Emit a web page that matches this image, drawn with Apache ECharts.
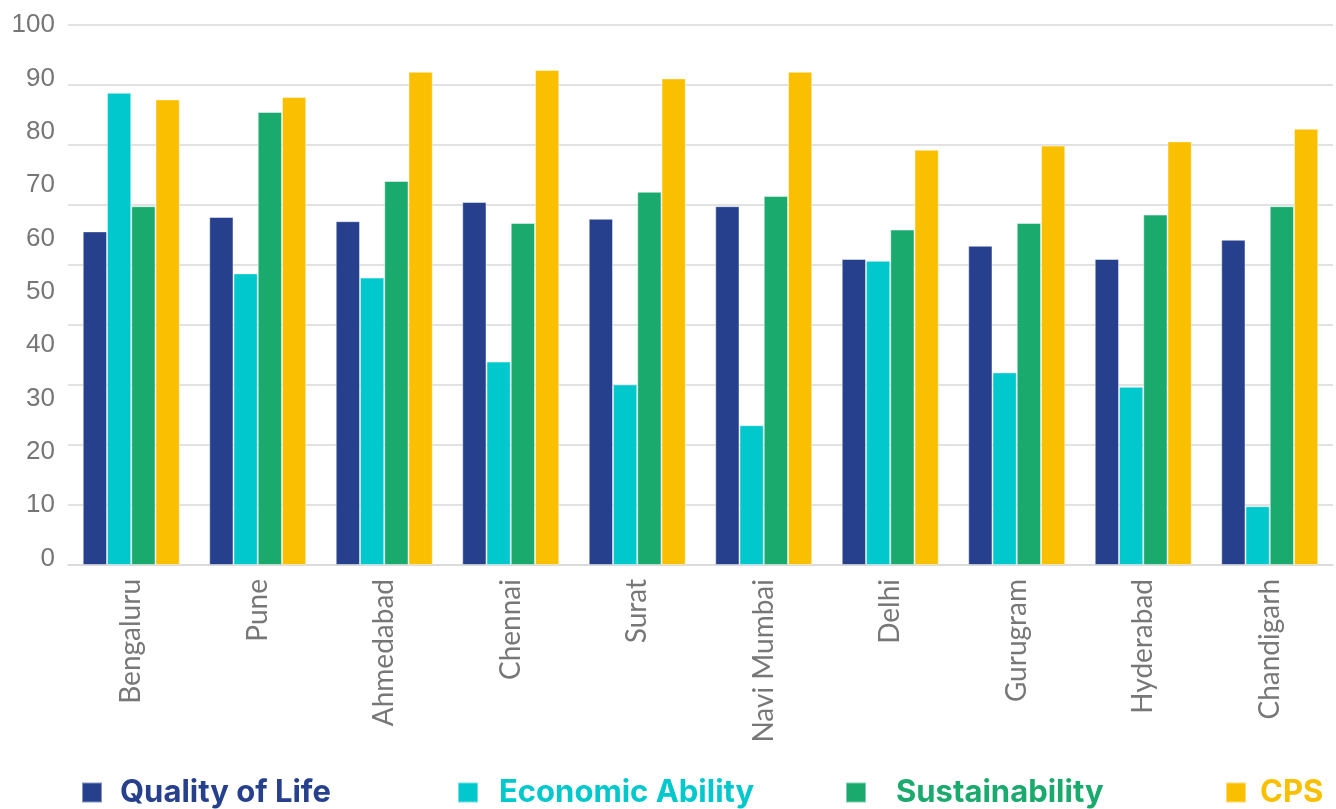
<!DOCTYPE html>
<html>
<head>
<meta charset="utf-8">
<title>Ease of Living – city scores</title>
<script src="https://cdn.jsdelivr.net/npm/echarts@6/dist/echarts.min.js"></script>
<style>
  html, body { margin: 0; padding: 0; background: #ffffff; }
  #chart { width: 1336px; height: 809px; }
</style>
</head>
<body>
<div id="chart"></div>
<script>
// Cities along the x axis
const cities = ['Bengaluru', 'Pune', 'Ahmedabad', 'Chennai', 'Surat',
                'Navi Mumbai', 'Delhi', 'Gurugram', 'Hyderabad', 'Chandigarh'];

// Pillar scores per city
const qualityOfLife   = [55.6, 58.0, 57.3, 60.5, 57.7, 59.8, 51.0, 53.2, 51.0, 54.2];
const economicAbility = [78.7, 48.6, 47.9, 33.9, 30.1, 23.3, 50.7, 32.1, 29.7, 9.8];
const sustainability  = [59.8, 75.5, 64.0, 57.0, 62.2, 61.5, 55.9, 57.0, 58.4, 59.8];
const cps             = [77.6, 78.0, 82.2, 82.5, 81.1, 82.2, 69.2, 69.9, 70.6, 72.7];

// Printed tick labels on the left side
const yTickValues = [0, 10, 20, 30, 40, 50, 60, 70, 80, 90, 100];
const yTickLabels = ['0', '10', '20', '30', '40', '50', '60', '70', '80', '90', '100'];

const seriesNames  = ['Quality of Life', 'Economic Ability', 'Sustainability', 'CPS'];
const seriesColors = ['#26408e', '#00c8cc', '#1baa6e', '#fac000'];
const seriesData   = [qualityOfLife, economicAbility, sustainability, cps];

// legend placement (icon left edge) and icon-to-text spacing
const legendLeft = [76, 452, 840, 1220];
const legendTextGap = [13, 16, 25, 9];

const chart = echarts.init(document.getElementById('chart'), null, { renderer: 'canvas' });

const gridLineStyle = { color: '#d9d9d9', width: 1.5 };

const option = {
  backgroundColor: '#ffffff',
  animation: false,
  grid: { left: 68, right: 3, top: 25, bottom: 244, containLabel: false },
  legend: seriesNames.map((name, i) => ({
    data: [name],
    left: legendLeft[i],
    top: 772,
    icon: 'rect',
    itemWidth: 20,
    itemHeight: 20,
    selectedMode: false,
    textStyle: {
      color: seriesColors[i],
      fontFamily: 'Inter, sans-serif',
      fontWeight: 'bold',
      fontSize: 31,
      padding: [0, 0, 0, legendTextGap[i]]
    }
  })),
  xAxis: {
    type: 'category',
    data: cities,
    axisTick: { show: false },
    axisLine: { lineStyle: gridLineStyle },
    axisLabel: {
      rotate: 90,
      margin: 14,
      color: '#777777',
      fontFamily: 'Lato, sans-serif',
      fontSize: 28,
      interval: 0
    }
  },
  yAxis: [
    {
      // value scale carrying the bars and the horizontal grid lines
      type: 'value',
      min: 0,
      max: 90,
      interval: 10,
      axisLine: { show: false },
      axisTick: { show: false },
      axisLabel: { show: false },
      splitLine: { show: true, lineStyle: gridLineStyle }
    },
    {
      // printed 0–100 tick labels
      type: 'value',
      min: -1.2,
      max: 100,
      position: 'left',
      axisLine: { show: false },
      axisTick: { show: false },
      splitLine: { show: false },
      axisLabel: {
        customValues: yTickValues,
        formatter: (v) => yTickLabels[yTickValues.indexOf(Math.round(v))] ?? '',
        margin: 13,
        color: '#767676',
        fontFamily: '"Liberation Sans", Arial, sans-serif',
        fontSize: 26
      }
    }
  ],
  series: seriesNames.map((name, i) => ({
    name: name,
    type: 'bar',
    yAxisIndex: 0,
    data: seriesData[i],
    barGap: '0%',
    barCategoryGap: '23.3%',
    itemStyle: {
      color: seriesColors[i],
      borderColor: 'rgba(255,255,255,0.45)',
      borderWidth: 1
    }
  }))
};

chart.setOption(option);
</script>
</body>
</html>
